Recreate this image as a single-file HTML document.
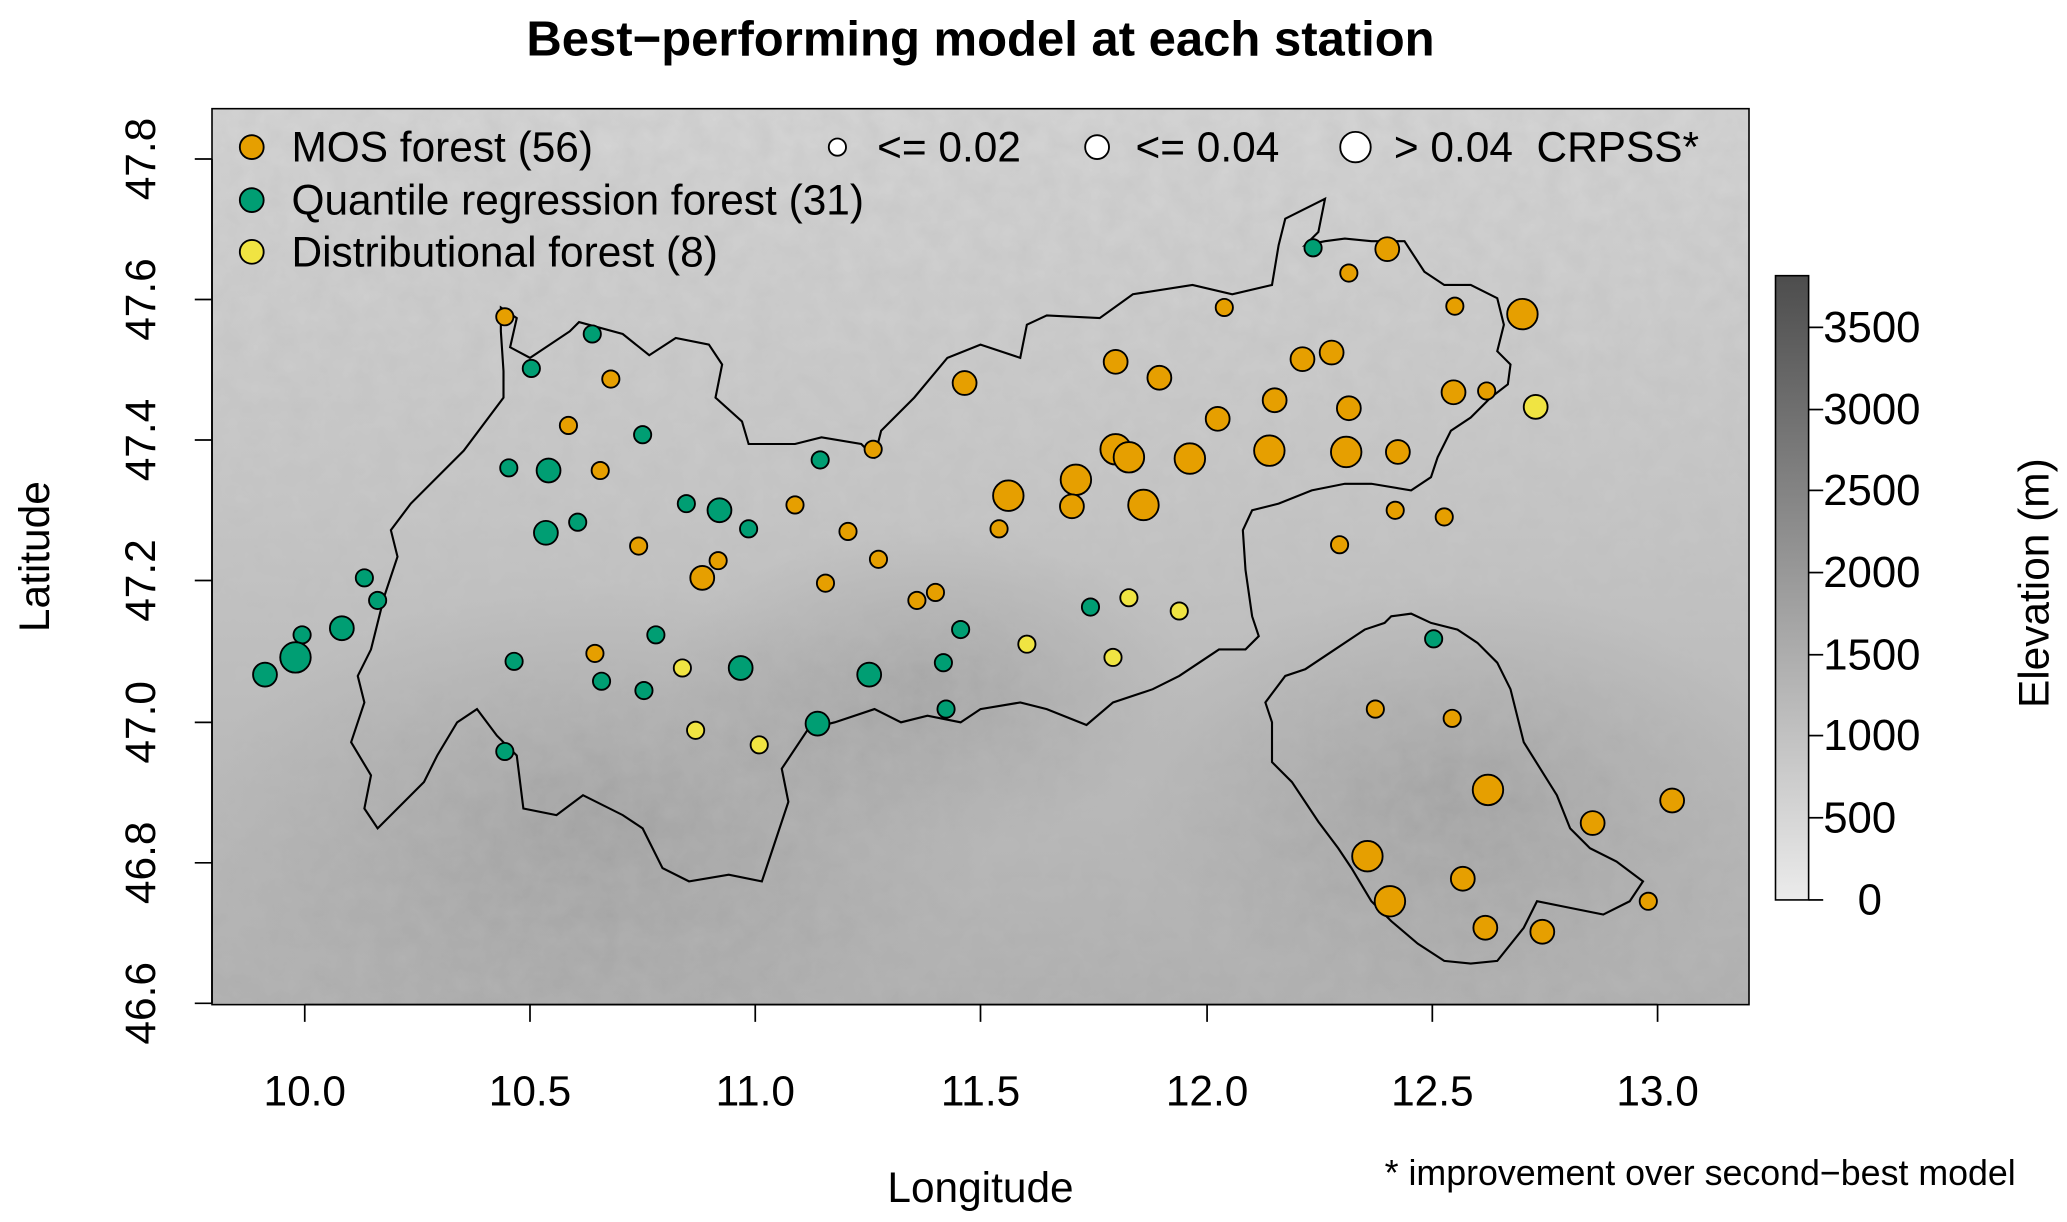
<!DOCTYPE html>
<html><head><meta charset="utf-8"><style>html,body{margin:0;padding:0;background:#fff}svg{display:block}</style></head>
<body>
<svg width="2067" height="1222" viewBox="0 0 1560 922" preserveAspectRatio="none" xmlns="http://www.w3.org/2000/svg" font-family="Liberation Sans, sans-serif">
<defs>
<linearGradient id="bg" x1="0" y1="0" x2="0" y2="1">
<stop offset="0" stop-color="#d6d6d6"/><stop offset="0.45" stop-color="#c6c6c6"/><stop offset="1" stop-color="#adadad"/>
</linearGradient>
<radialGradient id="dk" cx="0.5" cy="0.5" r="0.5"><stop offset="0" stop-color="#8a8a8a" stop-opacity="0.5"/><stop offset="1" stop-color="#8a8a8a" stop-opacity="0"/></radialGradient>
<linearGradient id="cb" x1="0" y1="1" x2="0" y2="0"><stop offset="0" stop-color="#ebebeb"/><stop offset="1" stop-color="#4d4d4d"/></linearGradient>
<filter id="tx" x="0" y="0" width="1" height="1"><feTurbulence type="fractalNoise" baseFrequency="0.06" numOctaves="3" seed="4"/><feColorMatrix type="matrix" values="0 0 0 0 0.5  0 0 0 0 0.5  0 0 0 0 0.5  0 0 0 0.45 0"/></filter>
<clipPath id="pc"><rect x="160" y="82" width="1160" height="676"/></clipPath>
</defs>
<text x="740" y="42" text-anchor="middle" font-size="37" font-weight="bold">Best−performing model at each station</text>
<g clip-path="url(#pc)">
<rect x="160" y="82" width="1160" height="676" fill="url(#bg)"/>
<ellipse cx="450" cy="620" rx="300" ry="180" fill="url(#dk)"/>
<ellipse cx="1100" cy="600" rx="250" ry="160" fill="url(#dk)"/>
<ellipse cx="700" cy="520" rx="200" ry="120" fill="url(#dk)"/>
<rect x="160" y="82" width="1160" height="676" filter="url(#tx)"/>
</g>
<rect x="160" y="82" width="1160" height="676" fill="none" stroke="#000" stroke-width="1.2"/>
<g fill="none" stroke="#000" stroke-width="1.6">
<path d="M378,232 L390,240 385,262 400,270 430,250 437,243 470,252 490,268 510,255 535,260 545,275 540,300 560,318 565,335 600,335 620,330 650,335 660,345 665,325 690,300 715,270 740,260 770,270 775,245 790,238 830,240 855,222 900,215 930,222 960,215 965,185 970,165 980,160 990,155 1000,150 995,175 985,185 1000,182 1015,180 1035,182 1060,182 1075,205 1090,215 1110,215 1130,225 1135,245 1130,265 1140,275 1138,290 1125,300 1110,315 1095,325 1085,345 1080,360 1065,370 1035,365 1015,365 990,370 965,380 945,385 938,400 940,430 945,465 950,480 940,490 920,490 905,500 890,510 870,520 840,530 820,547 790,535 770,530 740,535 725,545 700,540 680,545 660,535 630,545 610,550 590,580 595,605 585,635 575,665 550,660 520,665 500,655 485,625 470,615 440,600 420,615 395,610 390,570 375,555 360,535 345,545 330,570 320,590 300,610 285,625 275,610 280,585 265,560 275,530 270,510 280,490 285,470 290,450 300,420 295,400 310,380 330,360 350,340 365,320 380,300 380,280 378,250 Z"/>
<path d="M985,505 L1000,495 1030,475 1045,470 1050,465 1065,463 1080,470 1100,475 1115,485 1130,500 1140,520 1150,560 1175,600 1185,625 1200,640 1220,650 1240,665 1230,680 1210,690 1185,685 1160,680 1150,700 1130,725 1110,727 1090,725 1070,712 1050,695 1035,680 1020,655 1010,640 995,620 975,590 960,575 960,545 955,530 970,510 Z"/>
</g>
<g stroke="#000" stroke-width="1.4">
<g fill="#E69F00">
<circle cx="381" cy="239" r="6.5"/><circle cx="461" cy="286" r="6.5"/><circle cx="429" cy="321" r="6.5"/><circle cx="453" cy="355" r="6.5"/><circle cx="482" cy="412" r="6.5"/><circle cx="542" cy="423" r="6.5"/><circle cx="530" cy="436" r="9"/><circle cx="600" cy="381" r="6.5"/><circle cx="640" cy="401" r="6.5"/><circle cx="663" cy="422" r="6.5"/><circle cx="659" cy="339" r="6.5"/><circle cx="623" cy="440" r="6.5"/><circle cx="692" cy="453" r="6.5"/><circle cx="706" cy="447" r="6.5"/><circle cx="449" cy="493" r="6.5"/><circle cx="728" cy="289" r="9"/><circle cx="761" cy="374" r="11.5"/><circle cx="754" cy="399" r="6.5"/><circle cx="812" cy="362" r="11.5"/><circle cx="809" cy="382" r="9"/><circle cx="842" cy="273" r="9"/><circle cx="875" cy="285" r="9"/><circle cx="842" cy="339" r="11.5"/><circle cx="852" cy="345" r="11.5"/><circle cx="863" cy="381" r="11.5"/><circle cx="898" cy="346" r="11.5"/><circle cx="919" cy="316" r="9"/><circle cx="924" cy="232" r="6.5"/><circle cx="962" cy="302" r="9"/><circle cx="983" cy="271" r="9"/><circle cx="1005" cy="266" r="9"/><circle cx="958" cy="340" r="11.5"/><circle cx="1016" cy="341" r="11.5"/><circle cx="1018" cy="308" r="9"/><circle cx="1055" cy="341" r="9"/><circle cx="1053" cy="385" r="6.5"/><circle cx="1090" cy="390" r="6.5"/><circle cx="1011" cy="411" r="6.5"/><circle cx="1018" cy="206" r="6.5"/><circle cx="1047" cy="188" r="9"/><circle cx="1098" cy="231" r="6.5"/><circle cx="1149" cy="237" r="11.5"/><circle cx="1097" cy="296" r="9"/><circle cx="1122" cy="295" r="6.5"/><circle cx="1038" cy="535" r="6.5"/><circle cx="1096" cy="542" r="6.5"/><circle cx="1123" cy="596" r="11.5"/><circle cx="1032" cy="646" r="11.5"/><circle cx="1049" cy="680" r="11.5"/><circle cx="1104" cy="663" r="9"/><circle cx="1121" cy="700" r="9"/><circle cx="1164" cy="703" r="9"/><circle cx="1202" cy="621" r="9"/><circle cx="1262" cy="604" r="9"/><circle cx="1244" cy="680" r="6.5"/>
</g>
<g fill="#009E73">
<circle cx="991" cy="187" r="6.5"/><circle cx="447" cy="252" r="6.5"/><circle cx="401" cy="278" r="6.5"/><circle cx="485" cy="328" r="6.5"/><circle cx="619" cy="347" r="6.5"/><circle cx="384" cy="353" r="6.5"/><circle cx="414" cy="355" r="9"/><circle cx="518" cy="380" r="6.5"/><circle cx="543" cy="385" r="9"/><circle cx="565" cy="399" r="6.5"/><circle cx="436" cy="394" r="6.5"/><circle cx="412" cy="402" r="9"/><circle cx="275" cy="436" r="6.5"/><circle cx="285" cy="453" r="6.5"/><circle cx="228" cy="479" r="6.5"/><circle cx="258" cy="474" r="9"/><circle cx="223" cy="496" r="11.5"/><circle cx="200" cy="509" r="9"/><circle cx="388" cy="499" r="6.5"/><circle cx="454" cy="514" r="6.5"/><circle cx="486" cy="521" r="6.5"/><circle cx="495" cy="479" r="6.5"/><circle cx="559" cy="504" r="9"/><circle cx="656" cy="509" r="9"/><circle cx="712" cy="500" r="6.5"/><circle cx="725" cy="475" r="6.5"/><circle cx="823" cy="458" r="6.5"/><circle cx="714" cy="535" r="6.5"/><circle cx="617" cy="546" r="9"/><circle cx="381" cy="567" r="6.5"/><circle cx="1082" cy="482" r="6.5"/>
</g>
<g fill="#F0E442">
<circle cx="1159" cy="307" r="9"/><circle cx="852" cy="451" r="6.5"/><circle cx="890" cy="461" r="6.5"/><circle cx="775" cy="486" r="6.5"/><circle cx="840" cy="496" r="6.5"/><circle cx="515" cy="504" r="6.5"/><circle cx="525" cy="551" r="6.5"/><circle cx="573" cy="562" r="6.5"/>
</g>
<circle cx="190" cy="111" r="9" fill="#E69F00"/><circle cx="190" cy="151" r="9" fill="#009E73"/><circle cx="190" cy="190" r="9" fill="#F0E442"/>
<circle cx="632" cy="111" r="6.5" fill="#fff"/><circle cx="828" cy="111" r="9" fill="#fff"/><circle cx="1023" cy="111" r="11.5" fill="#fff"/>
</g>
<g font-size="32" fill="#000">
<text x="220" y="122">MOS forest (56)</text>
<text x="220" y="162">Quantile regression forest (31)</text>
<text x="220" y="201">Distributional forest (8)</text>
<text x="662" y="122">&lt;= 0.02</text>
<text x="857" y="122">&lt;= 0.04</text>
<text x="1052" y="122" xml:space="preserve">&gt; 0.04  CRPSS*</text>
</g>
<g stroke="#000" stroke-width="1.3">
<line x1="230" y1="758" x2="1251" y2="758"/>
<line x1="230" y1="758" x2="230" y2="771"/><line x1="400" y1="758" x2="400" y2="771"/><line x1="570" y1="758" x2="570" y2="771"/><line x1="740" y1="758" x2="740" y2="771"/><line x1="911" y1="758" x2="911" y2="771"/><line x1="1081" y1="758" x2="1081" y2="771"/><line x1="1251" y1="758" x2="1251" y2="771"/>
<line x1="160" y1="120" x2="160" y2="757"/>
<line x1="147" y1="120" x2="160" y2="120"/><line x1="147" y1="226" x2="160" y2="226"/><line x1="147" y1="332" x2="160" y2="332"/><line x1="147" y1="438" x2="160" y2="438"/><line x1="147" y1="545" x2="160" y2="545"/><line x1="147" y1="651" x2="160" y2="651"/><line x1="147" y1="757" x2="160" y2="757"/>
</g>
<g font-size="32" text-anchor="middle">
<text x="230" y="834">10.0</text><text x="400" y="834">10.5</text><text x="570" y="834">11.0</text><text x="740" y="834">11.5</text><text x="911" y="834">12.0</text><text x="1081" y="834">12.5</text><text x="1251" y="834">13.0</text>
<text transform="translate(117,120) rotate(-90)">47.8</text>
<text transform="translate(117,226) rotate(-90)">47.6</text>
<text transform="translate(117,332) rotate(-90)">47.4</text>
<text transform="translate(117,438) rotate(-90)">47.2</text>
<text transform="translate(117,545) rotate(-90)">47.0</text>
<text transform="translate(117,651) rotate(-90)">46.8</text>
<text transform="translate(117,757) rotate(-90)">46.6</text>
<text x="740" y="907">Longitude</text>
<text transform="translate(37,420) rotate(-90)">Latitude</text>
</g>
<text x="1045" y="894" font-size="27">* improvement over second−best model</text>
<rect x="1340" y="208" width="25" height="471" fill="url(#cb)" stroke="#000" stroke-width="1.2"/>
<g stroke="#000" stroke-width="1.3">
<line x1="1365" y1="679" x2="1376" y2="679"/><line x1="1365" y1="617" x2="1376" y2="617"/><line x1="1365" y1="555" x2="1376" y2="555"/><line x1="1365" y1="494" x2="1376" y2="494"/><line x1="1365" y1="432" x2="1376" y2="432"/><line x1="1365" y1="370" x2="1376" y2="370"/><line x1="1365" y1="309" x2="1376" y2="309"/><line x1="1365" y1="247" x2="1376" y2="247"/>
</g>
<g font-size="33">
<text x="1402" y="690">0</text><text x="1376" y="628">500</text><text x="1376" y="566">1000</text><text x="1376" y="505">1500</text><text x="1376" y="443">2000</text><text x="1376" y="381">2500</text><text x="1376" y="320">3000</text><text x="1376" y="258">3500</text>
<text transform="translate(1546,440) rotate(-90)" text-anchor="middle" font-size="32">Elevation (m)</text>
</g>
</svg>
</body></html>
